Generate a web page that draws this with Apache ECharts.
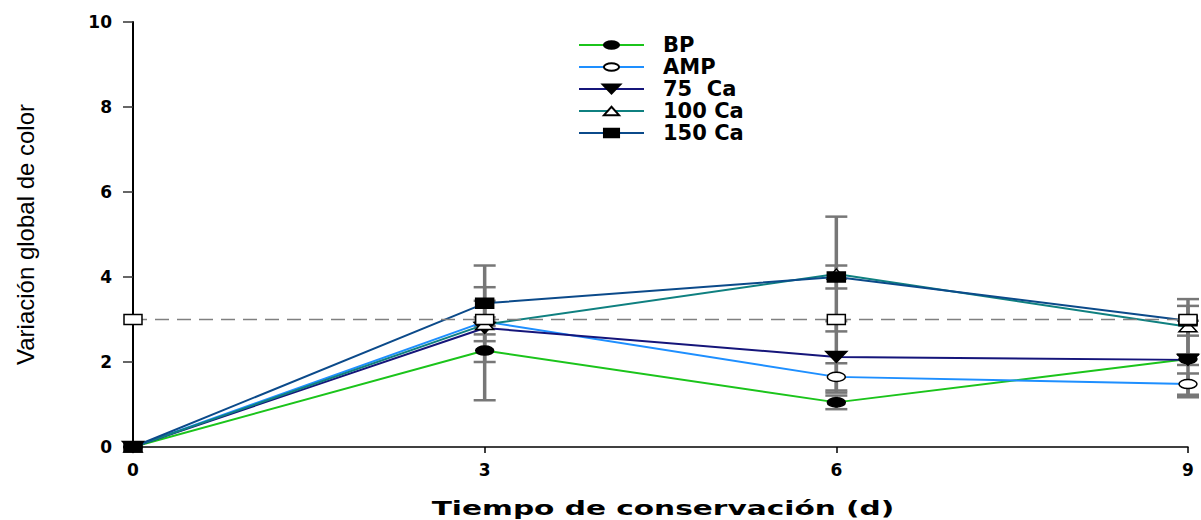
<!DOCTYPE html>
<html>
<head>
<meta charset="utf-8">
<script src="https://cdn.jsdelivr.net/npm/echarts@6/dist/echarts.min.js"></script>
<style>
  html, body { margin: 0; padding: 0; background: #ffffff; }
  #chart { width: 1201px; height: 520px; }
</style>
</head>
<body>
<div id="chart"></div>
<script>
// Storage time (days)
const days = [0, 3, 6, 9];
const seriesNames = ['BP', 'AMP', '75  Ca', '100 Ca', '150 Ca'];

// Mean global colour change per treatment
const bp    = [0, 2.27, 1.05, 2.07];
const amp   = [0, 2.95, 1.65, 1.48];
const ca75  = [0, 2.80, 2.12, 2.05];
const ca100 = [0, 2.88, 4.07, 2.83];
const ca150 = [0, 3.38, 4.00, 2.97];

// Standard deviations (drawn as ± error bars)
const bpSd    = [0, 1.17, 0.16, 0.90];
const ampSd   = [0, 0.10, 0.32, 0.25];
const ca75Sd  = [0, 0.15, 0.84, 0.12];
const ca100Sd = [0, 0.88, 1.35, 0.65];
const ca150Sd = [0, 0.89, 0.27, 0.35];

// Perceptible-difference threshold
const threshold = [3, 3, 3, 3];

const yTitle = 'Variación global de color';
const xTitle = 'Tiempo de conservación (d)';

// Marker outlines on a 21x21 box (corner moves keep the box square so the
// same shape reads correctly both on the plot and in the legend).
const SYM = {
  ellipse: 'path://M0 0M21 21M1.5 10.5A9 4.5 0 1 0 19.5 10.5A9 4.5 0 1 0 1.5 10.5Z',
  triDown: 'path://M0 0M21 21M0 5L21 5L10.5 16Z',
  triUp:   'path://M0 0M21 21M1.5 15.5L19.5 15.5L10.5 5.5Z',
  rect:    'path://M0 0M21 21M1.5 5.5L19.5 5.5L19.5 15.5L1.5 15.5Z'
};

const pairs = (ys) => days.map((d, i) => [d, ys[i]]);

function lineSeries(name, ys, color, symbol, filled, z) {
  return {
    name: name,
    type: 'line',
    data: pairs(ys),
    z: z,
    symbol: symbol,
    symbolSize: 21,
    showAllSymbol: true,
    lineStyle: { color: color, width: 2 },
    itemStyle: {
      color: filled ? '#000000' : '#ffffff',
      borderColor: '#000000',
      borderWidth: 1.5
    },
    emphasis: { disabled: true },
    silent: true
  };
}

// Error bar rows: [day, low, high]
const errorRows = [];
[[bp, bpSd], [amp, ampSd], [ca75, ca75Sd], [ca100, ca100Sd], [ca150, ca150Sd]].forEach(([m, s]) => {
  days.forEach((d, i) => {
    if (s[i] > 0) errorRows.push([d, m[i] - s[i], m[i] + s[i]]);
  });
});

const chart = echarts.init(document.getElementById('chart'), null, { renderer: 'svg' });

chart.setOption({
  animation: false,
  backgroundColor: '#ffffff',
  grid: { left: 133, right: 13, top: 22, bottom: 73 },
  legend: {
    data: seriesNames,
    orient: 'vertical',
    left: 573,
    top: 29,
    itemWidth: 65,
    itemHeight: 22,
    itemGap: 0,
    selectedMode: false,
    textStyle: {
      fontFamily: 'DejaVu Sans',
      fontWeight: 'bold',
      fontSize: 21,
      lineHeight: 22,
      color: '#000000',
      padding: [0, 0, 0, 14]
    }
  },
  xAxis: {
    type: 'value',
    min: 0,
    max: 9,
    interval: 3,
    axisLine: { show: true, lineStyle: { color: '#000000', width: 1.5 } },
    axisTick: { show: true, length: 6, lineStyle: { color: '#000000', width: 1.5 } },
    axisLabel: {
      margin: 14,
      fontFamily: 'DejaVu Sans',
      fontWeight: 'bold',
      fontSize: 17,
      color: '#000000'
    },
    splitLine: { show: false }
  },
  yAxis: {
    type: 'value',
    min: 0,
    max: 10,
    interval: 2,
    name: yTitle,
    nameLocation: 'middle',
    nameRotate: 90,
    nameGap: 96,
    nameTextStyle: {
      fontFamily: 'Liberation Sans',
      fontSize: 24,
      color: '#000000'
    },
    axisLine: { show: true, lineStyle: { color: '#000000', width: 2 } },
    axisTick: { show: true, length: 10, lineStyle: { color: '#333333', width: 1.5 } },
    axisLabel: {
      margin: 21,
      fontFamily: 'DejaVu Sans',
      fontWeight: 'bold',
      fontSize: 17,
      color: '#000000'
    },
    splitLine: { show: false }
  },
  graphic: [{
    type: 'text',
    x: 663,
    y: 508,
    scaleX: 1.48,
    silent: true,
    style: {
      text: xTitle,
      fontFamily: 'DejaVu Sans',
      fontWeight: 'bold',
      fontSize: 20,
      fill: '#000000',
      textAlign: 'center',
      textVerticalAlign: 'middle'
    }
  }],
  series: [
    {
      name: 'sd',
      type: 'custom',
      z: 1,
      silent: true,
      data: errorRows,
      renderItem: function (params, api) {
        const x = api.value(0);
        const lo = api.coord([x, api.value(1)]);
        const hi = api.coord([x, api.value(2)]);
        const half = 11;
        const st = { stroke: '#777777', lineWidth: 3.5 };
        const cap = { stroke: '#777777', lineWidth: 2.5 };
        return {
          type: 'group',
          children: [
            { type: 'line', shape: { x1: lo[0], y1: lo[1], x2: hi[0], y2: hi[1] }, style: st },
            { type: 'line', shape: { x1: lo[0] - half, y1: lo[1], x2: lo[0] + half, y2: lo[1] }, style: cap },
            { type: 'line', shape: { x1: hi[0] - half, y1: hi[1], x2: hi[0] + half, y2: hi[1] }, style: cap }
          ]
        };
      }
    },
    lineSeries('BP', bp, '#1bc41b', SYM.ellipse, true, 2),
    lineSeries('AMP', amp, '#1e8fff', SYM.ellipse, false, 2),
    lineSeries('75  Ca', ca75, '#15157a', SYM.triDown, true, 2),
    lineSeries('100 Ca', ca100, '#0f8080', SYM.triUp, false, 2),
    lineSeries('150 Ca', ca150, '#0b4a8a', SYM.rect, true, 2),
    {
      name: 'umbral',
      type: 'line',
      z: 3,
      silent: true,
      data: pairs(threshold),
      symbol: SYM.rect,
      symbolSize: 21,
      showAllSymbol: true,
      lineStyle: { color: '#808080', width: 1.5, type: [14, 8] },
      itemStyle: { color: '#ffffff', borderColor: '#000000', borderWidth: 1.5 },
      emphasis: { disabled: true }
    }
  ]
});
</script>
</body>
</html>
